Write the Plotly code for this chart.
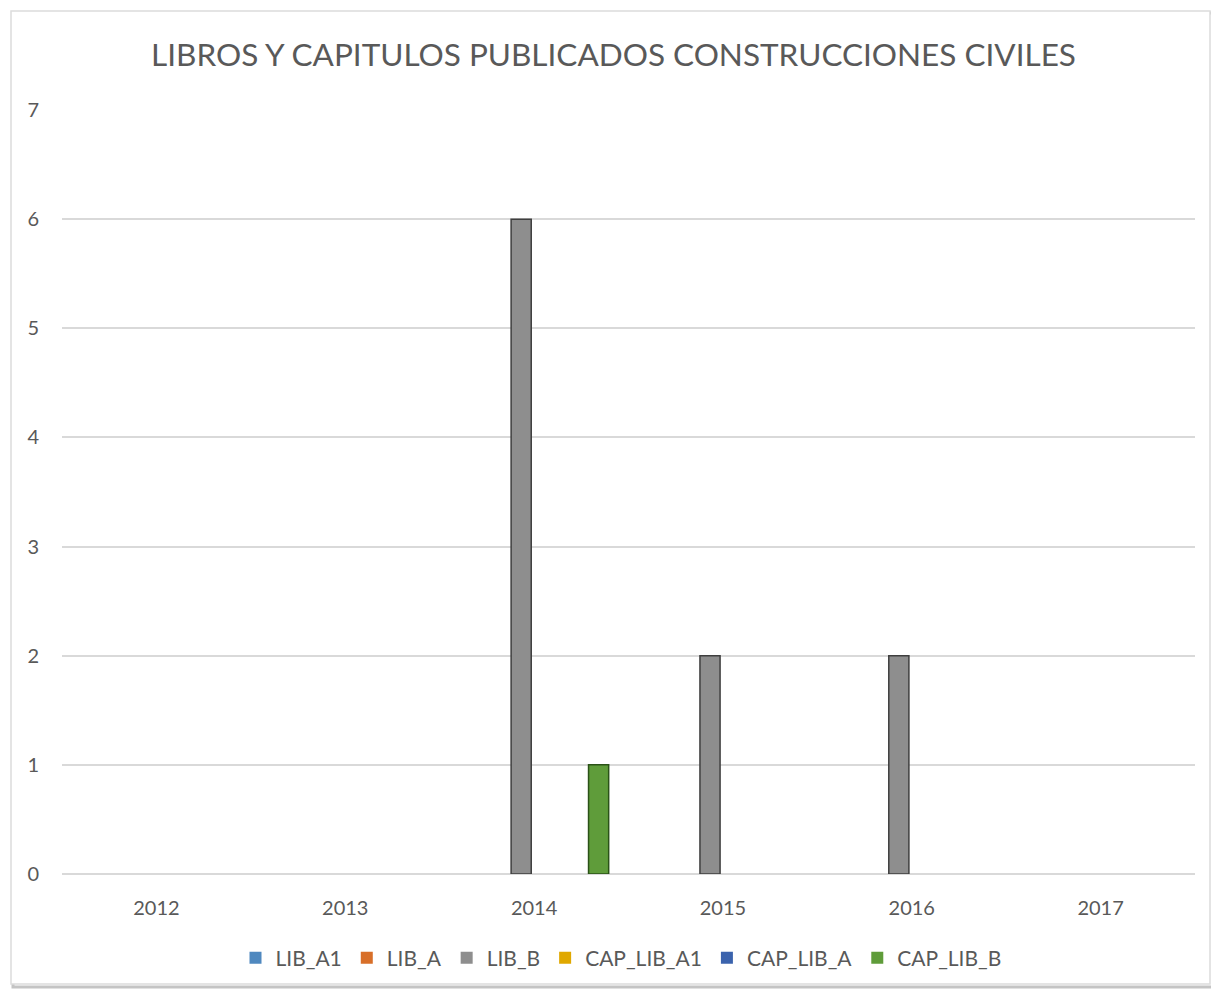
import plotly.graph_objects as go

years = ["2012", "2013", "2014", "2015", "2016", "2017"]
series_names = ["LIB_A1", "LIB_A", "LIB_B", "CAP_LIB_A1", "CAP_LIB_A", "CAP_LIB_B"]
lib_a1 = [0, 0, 0, 0, 0, 0]
lib_a = [0, 0, 0, 0, 0, 0]
lib_b = [0, 0, 6, 2, 2, 0]
cap_lib_a1 = [0, 0, 0, 0, 0, 0]
cap_lib_a = [0, 0, 0, 0, 0, 0]
cap_lib_b = [0, 0, 1, 0, 0, 0]
y_ticks = [0, 1, 2, 3, 4, 5, 6, 7]

series_values = [lib_a1, lib_a, lib_b, cap_lib_a1, cap_lib_a, cap_lib_b]
fills = ["#4f88bf", "#d86f29", "#8e8e8e", "#e0a800", "#3b63ad", "#5f9c3a"]
edges = ["#2d5a85", "#8f4715", "#3f3f3f", "#8f6c00", "#223d72", "#2a5217"]

# page body margin offset (browser default 8px)
OFF = 8
W, H = 1219 - OFF, 990 - OFF
L, R, T, B = 62 - OFF, 24, 110 - OFF, 116

fig = go.Figure()
for name, vals, fc, ec in zip(series_names, series_values, fills, edges):
    fig.add_trace(go.Bar(
        name=name, x=years, y=vals,
        marker=dict(color=fc, line=dict(color=ec, width=[1.5 if v else 0 for v in vals])),
    ))

def px_to_paper_x(px):
    return (px - OFF - L) / (W - L - R)

def px_to_paper_y(py):
    return (H - B - (py - OFF)) / (H - T - B)

shapes = [
    dict(type="rect", xref="paper", yref="paper",
         x0=px_to_paper_x(13), x1=px_to_paper_x(1213),
         y0=px_to_paper_y(987), y1=px_to_paper_y(13),
         line=dict(color="#c4c4c4", width=3), layer="below"),
    dict(type="rect", xref="paper", yref="paper",
         x0=px_to_paper_x(11), x1=px_to_paper_x(1210),
         y0=px_to_paper_y(984), y1=px_to_paper_y(11),
         line=dict(color="#dcdcdc", width=1.5), fillcolor="white", layer="below"),
]

fig.update_layout(
    width=W, height=H,
    margin=dict(l=L, r=R, t=T, b=B),
    paper_bgcolor="white", plot_bgcolor="white",
    font=dict(family="Lato, Carlito, sans-serif", color="#595959", size=20),
    title=dict(text="LIBROS Y CAPITULOS PUBLICADOS CONSTRUCCIONES CIVILES",
               x=0.5, xanchor="center", y=1 - (55 - OFF) / H, yanchor="middle",
               font=dict(size=31.5, color="#595959")),
    barmode="group", bargap=0.18, bargroupgap=0.22,
    showlegend=True,
    legend=dict(orientation="h", x=px_to_paper_x(621), xanchor="center",
                y=px_to_paper_y(958), yanchor="middle",
                font=dict(size=21, color="#595959"),
                itemwidth=30, traceorder="normal"),
    shapes=shapes,
    xaxis=dict(showgrid=False, showline=False, zeroline=False, ticks="",
               ticklabelstandoff=20, tickfont=dict(size=20, color="#595959")),
    yaxis=dict(range=[0, 7], tickvals=y_ticks, showgrid=True, gridcolor="#d9d9d9",
               gridwidth=1.5, zeroline=True, zerolinecolor="#d9d9d9", zerolinewidth=1.5,
               showline=False, ticks="", ticklabelstandoff=22,
               tickfont=dict(size=20, color="#595959")),
)

fig.write_html("out.html")
